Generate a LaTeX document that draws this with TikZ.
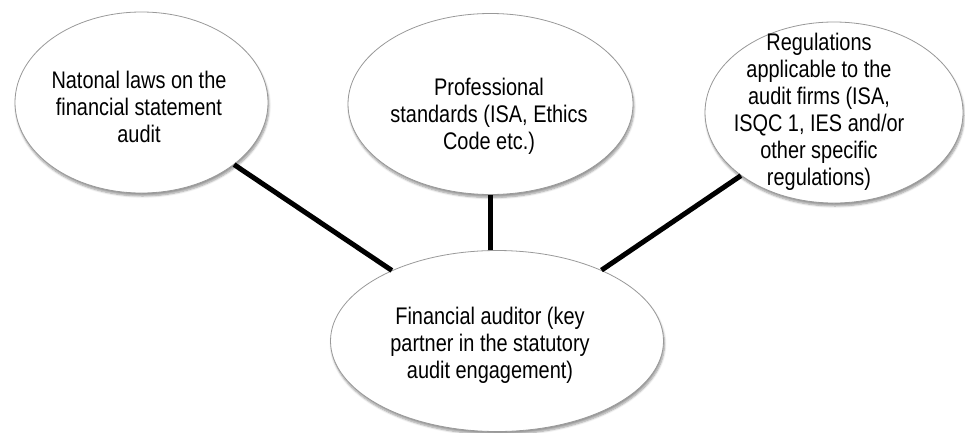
\documentclass[tikz,border=0pt]{standalone}
\usepackage{fontspec}
\setmainfont{Liberation Sans}[FakeStretch=0.83]
\usetikzlibrary{shapes.geometric,shadows.blur}

\tikzset{
	bubble/.style={ellipse,draw=gray!80,line width=0.8pt,fill=white,
		minimum height=181pt,inner sep=0pt,
		blur shadow={shadow xshift=1pt,shadow yshift=-3pt,shadow blur steps=6,shadow opacity=40}},
	bubbletext/.style={align=center,inner sep=0pt,font=\fontsize{24}{27}\selectfont},
	link/.style={line width=5pt}
}

\begin{document}
\begin{tikzpicture}[x=1pt,y=-1pt]
	\useasboundingbox (0,0) rectangle (965,432);

	% Ellipses
	\node[bubble,minimum width=253pt] (laws) at (141.5,102.5) {};
	\node[bubble,minimum width=285pt] (standards) at (490.5,104) {};
	\node[bubble,minimum width=258pt] (firms) at (834,112.5) {};
	\node[bubble,minimum width=333pt] (auditor) at (497,341) {};

	% Texts
	\node[bubbletext] (lawstext) at (139,107) {Natonal laws on the\\financial statement\\audit};
	\node[bubbletext] (standardstext) at (489,116) {Professional\\standards (ISA, Ethics\\Code etc.)};
	\node[bubbletext] (firmstext) at (819,112) {Regulations\\applicable to the\\audit firms (ISA,\\ISQC 1, IES and/or\\other specific\\regulations)};
	\node[bubbletext] (auditortext) at (490,345) {Financial auditor (key\\partner in the statutory\\audit engagement)};

	% Links to the auditor
	\draw[link] (laws) -- (auditor);
	\draw[link] (standards.south) -- (standards.south |- auditor.north);
	\draw[link] (firms) -- (auditor);

\end{tikzpicture}
\end{document}
